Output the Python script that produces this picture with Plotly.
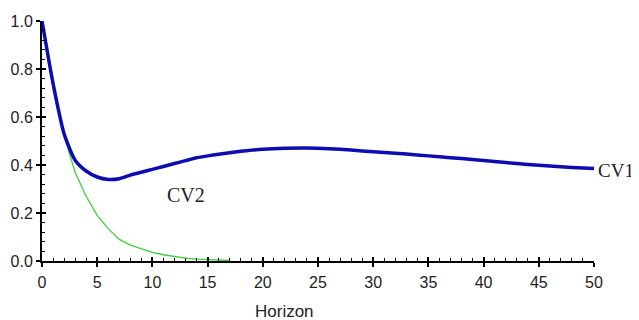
import plotly.graph_objects as go

# Data
horizon_cv1 = [0, 1, 2, 3, 4, 5, 6, 7, 8, 9, 10, 11, 12, 13, 14, 15, 16, 17, 18, 19, 20,
               22, 24, 26, 28, 30, 32, 34, 36, 38, 40, 42, 44, 46, 48, 50]
cv1_values = [1.0, 0.74, 0.53, 0.42, 0.375, 0.35, 0.34, 0.343, 0.358, 0.37, 0.382, 0.394, 0.406,
              0.418, 0.43, 0.438, 0.445, 0.451, 0.457, 0.462, 0.466,
              0.47, 0.471, 0.468, 0.462, 0.455, 0.449, 0.442, 0.434, 0.427, 0.419,
              0.41, 0.402, 0.396, 0.39, 0.385]

horizon_cv2 = [0, 1, 2, 3, 4, 5, 6, 7, 8, 9, 10, 11, 12, 13, 14, 15, 16, 17]
cv2_values = [1.0, 0.72, 0.52, 0.37, 0.27, 0.19, 0.135, 0.09, 0.066, 0.05, 0.036, 0.026,
              0.018, 0.012, 0.008, 0.005, 0.003, 0.002]

x_ticks = [0, 5, 10, 15, 20, 25, 30, 35, 40, 45, 50]
y_ticks = [0.0, 0.2, 0.4, 0.6, 0.8, 1.0]
y_tick_labels = ["0.0", "0.2", "0.4", "0.6", "0.8", "1.0"]

fig = go.Figure()
fig.add_trace(go.Scatter(x=horizon_cv2, y=cv2_values, mode="lines",
                         line=dict(color="#3ccf3c", width=1.3), cliponaxis=False,
                         showlegend=False, hoverinfo="skip"))
fig.add_trace(go.Scatter(x=horizon_cv1, y=cv1_values, mode="lines",
                         line=dict(color="#0c0cb0", width=3.5, shape="spline", smoothing=0.6),
                         cliponaxis=False, showlegend=False, hoverinfo="skip"))
# empty trace to host the overlay axes (inside ticks)
fig.add_trace(go.Scatter(x=[], y=[], xaxis="x2", yaxis="y2", showlegend=False))

tick_font = dict(family="Liberation Sans, Arial, sans-serif", size=16, color="#222222")

# page body has an 8px default margin; figure is sized to compensate
fig.update_layout(
    template="none",
    width=631, height=312,
    margin=dict(l=33.5, r=44.5, t=13, b=59, pad=0),
    paper_bgcolor="white", plot_bgcolor="white",
    xaxis=dict(range=[0, 50], tickvals=x_ticks, ticktext=[str(v) for v in x_ticks],
               ticks="outside", ticklen=4, tickwidth=1.5, tickcolor="black",
               showline=True, linecolor="black", linewidth=2, showgrid=False,
               zeroline=False, tickfont=tick_font, ticklabelstandoff=2, automargin=False),
    yaxis=dict(range=[0, 1], tickvals=y_ticks, ticktext=y_tick_labels,
               ticks="outside", ticklen=4, tickwidth=1.5, tickcolor="black",
               showline=True, linecolor="black", linewidth=2, showgrid=False,
               zeroline=False, tickfont=tick_font, automargin=False),
    xaxis2=dict(range=[0, 50], overlaying="x", anchor="y", side="bottom",
                tickvals=x_ticks, ticks="inside", ticklen=4, tickwidth=1.5,
                tickcolor="black", showticklabels=False, showline=False,
                showgrid=False, zeroline=False, automargin=False,
                minor=dict(dtick=1, tick0=0, ticks="inside", ticklen=3,
                           tickwidth=1.2, tickcolor="black", showgrid=False)),
    yaxis2=dict(range=[0, 1], overlaying="y", anchor="x", side="left",
                tickvals=y_ticks, ticks="inside", ticklen=4, tickwidth=1.5,
                tickcolor="black", showticklabels=False, showline=False,
                showgrid=False, zeroline=False, automargin=False,
                minor=dict(dtick=0.04, tick0=0, ticks="inside", ticklen=3,
                           tickwidth=1.2, tickcolor="black", showgrid=False)),
    annotations=[
        dict(text="CV2", x=13.0, y=0.273, xref="x", yref="y", showarrow=False,
             borderpad=0,
             font=dict(family="Liberation Serif, Times New Roman, serif", size=20, color="#222222")),
        dict(text="CV1", x=1.006, y=0.377, xref="paper", yref="y", showarrow=False,
             xanchor="left", borderpad=0,
             font=dict(family="Liberation Serif, Times New Roman, serif", size=19, color="#222222")),
        dict(text="Horizon", x=22.0, y=-0.21, xref="x", yref="paper", showarrow=False,
             yanchor="middle", borderpad=0,
             font=dict(family="Liberation Sans, Arial, sans-serif", size=17, color="#222222")),
    ],
)

fig.write_html("out.html")
